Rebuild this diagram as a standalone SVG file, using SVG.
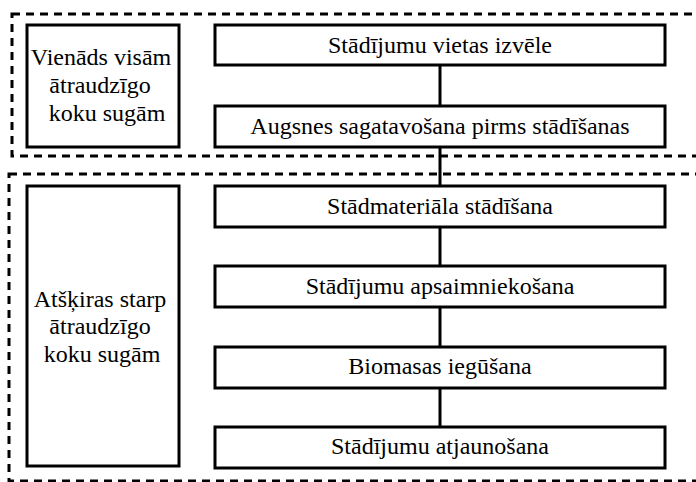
<svg xmlns="http://www.w3.org/2000/svg" width="696" height="482" viewBox="0 0 696 482">
<style>
.box{fill:#fff;stroke:#000;stroke-width:3}
.grp{fill:none;stroke:#000;stroke-width:3;stroke-dasharray:8 6}
.t{font-family:"Liberation Serif","Times New Roman",serif;font-size:24px;fill:#000;text-anchor:middle}
.c{stroke:#000;stroke-width:3;fill:none}
</style>
<rect width="696" height="482" fill="#fff"/>
<g id="groups">
<rect class="grp" x="12" y="14" width="700" height="142"/>
<rect class="grp" x="9" y="174" width="703" height="307"/>
</g>
<g id="connectors">
<line class="c" x1="440" y1="65" x2="440" y2="105"/>
<line class="c" x1="440" y1="147" x2="440" y2="185"/>
<line class="c" x1="440" y1="227" x2="440" y2="266"/>
<line class="c" x1="440" y1="307" x2="440" y2="347"/>
<line class="c" x1="440" y1="388" x2="440" y2="427"/>
</g>
<g id="left1">
<rect class="box" x="27" y="25" width="152" height="122"/>
<text class="t" x="101" y="65">Vienāds visām</text>
<text class="t" x="100" y="93">ātraudzīgo</text>
<text class="t" x="107" y="121">koku sugām</text>
</g>
<g id="left2">
<rect class="box" x="27" y="186" width="152" height="280"/>
<text class="t" x="100" y="307">Atšķiras starp</text>
<text class="t" x="100" y="334">ātraudzīgo</text>
<text class="t" x="102" y="362">koku sugām</text>
</g>
<g id="n1">
<rect class="box" x="215" y="25" width="450" height="40"/>
<text class="t" x="440" y="53">Stādījumu vietas izvēle</text>
</g>
<g id="n2">
<rect class="box" x="215" y="106" width="450" height="41"/>
<text class="t" x="440" y="134">Augsnes sagatavošana pirms stādīšanas</text>
</g>
<g id="n3">
<rect class="box" x="215" y="186" width="450" height="41"/>
<text class="t" x="440" y="214">Stādmateriāla stādīšana</text>
</g>
<g id="n4">
<rect class="box" x="215" y="266" width="450" height="41"/>
<text class="t" x="440" y="294">Stādījumu apsaimniekošana</text>
</g>
<g id="n5">
<rect class="box" x="215" y="347" width="450" height="41"/>
<text class="t" x="440" y="374">Biomasas iegūšana</text>
</g>
<g id="n6">
<rect class="box" x="215" y="427" width="450" height="41"/>
<text class="t" x="440" y="454">Stādījumu atjaunošana</text>
</g>
</svg>
